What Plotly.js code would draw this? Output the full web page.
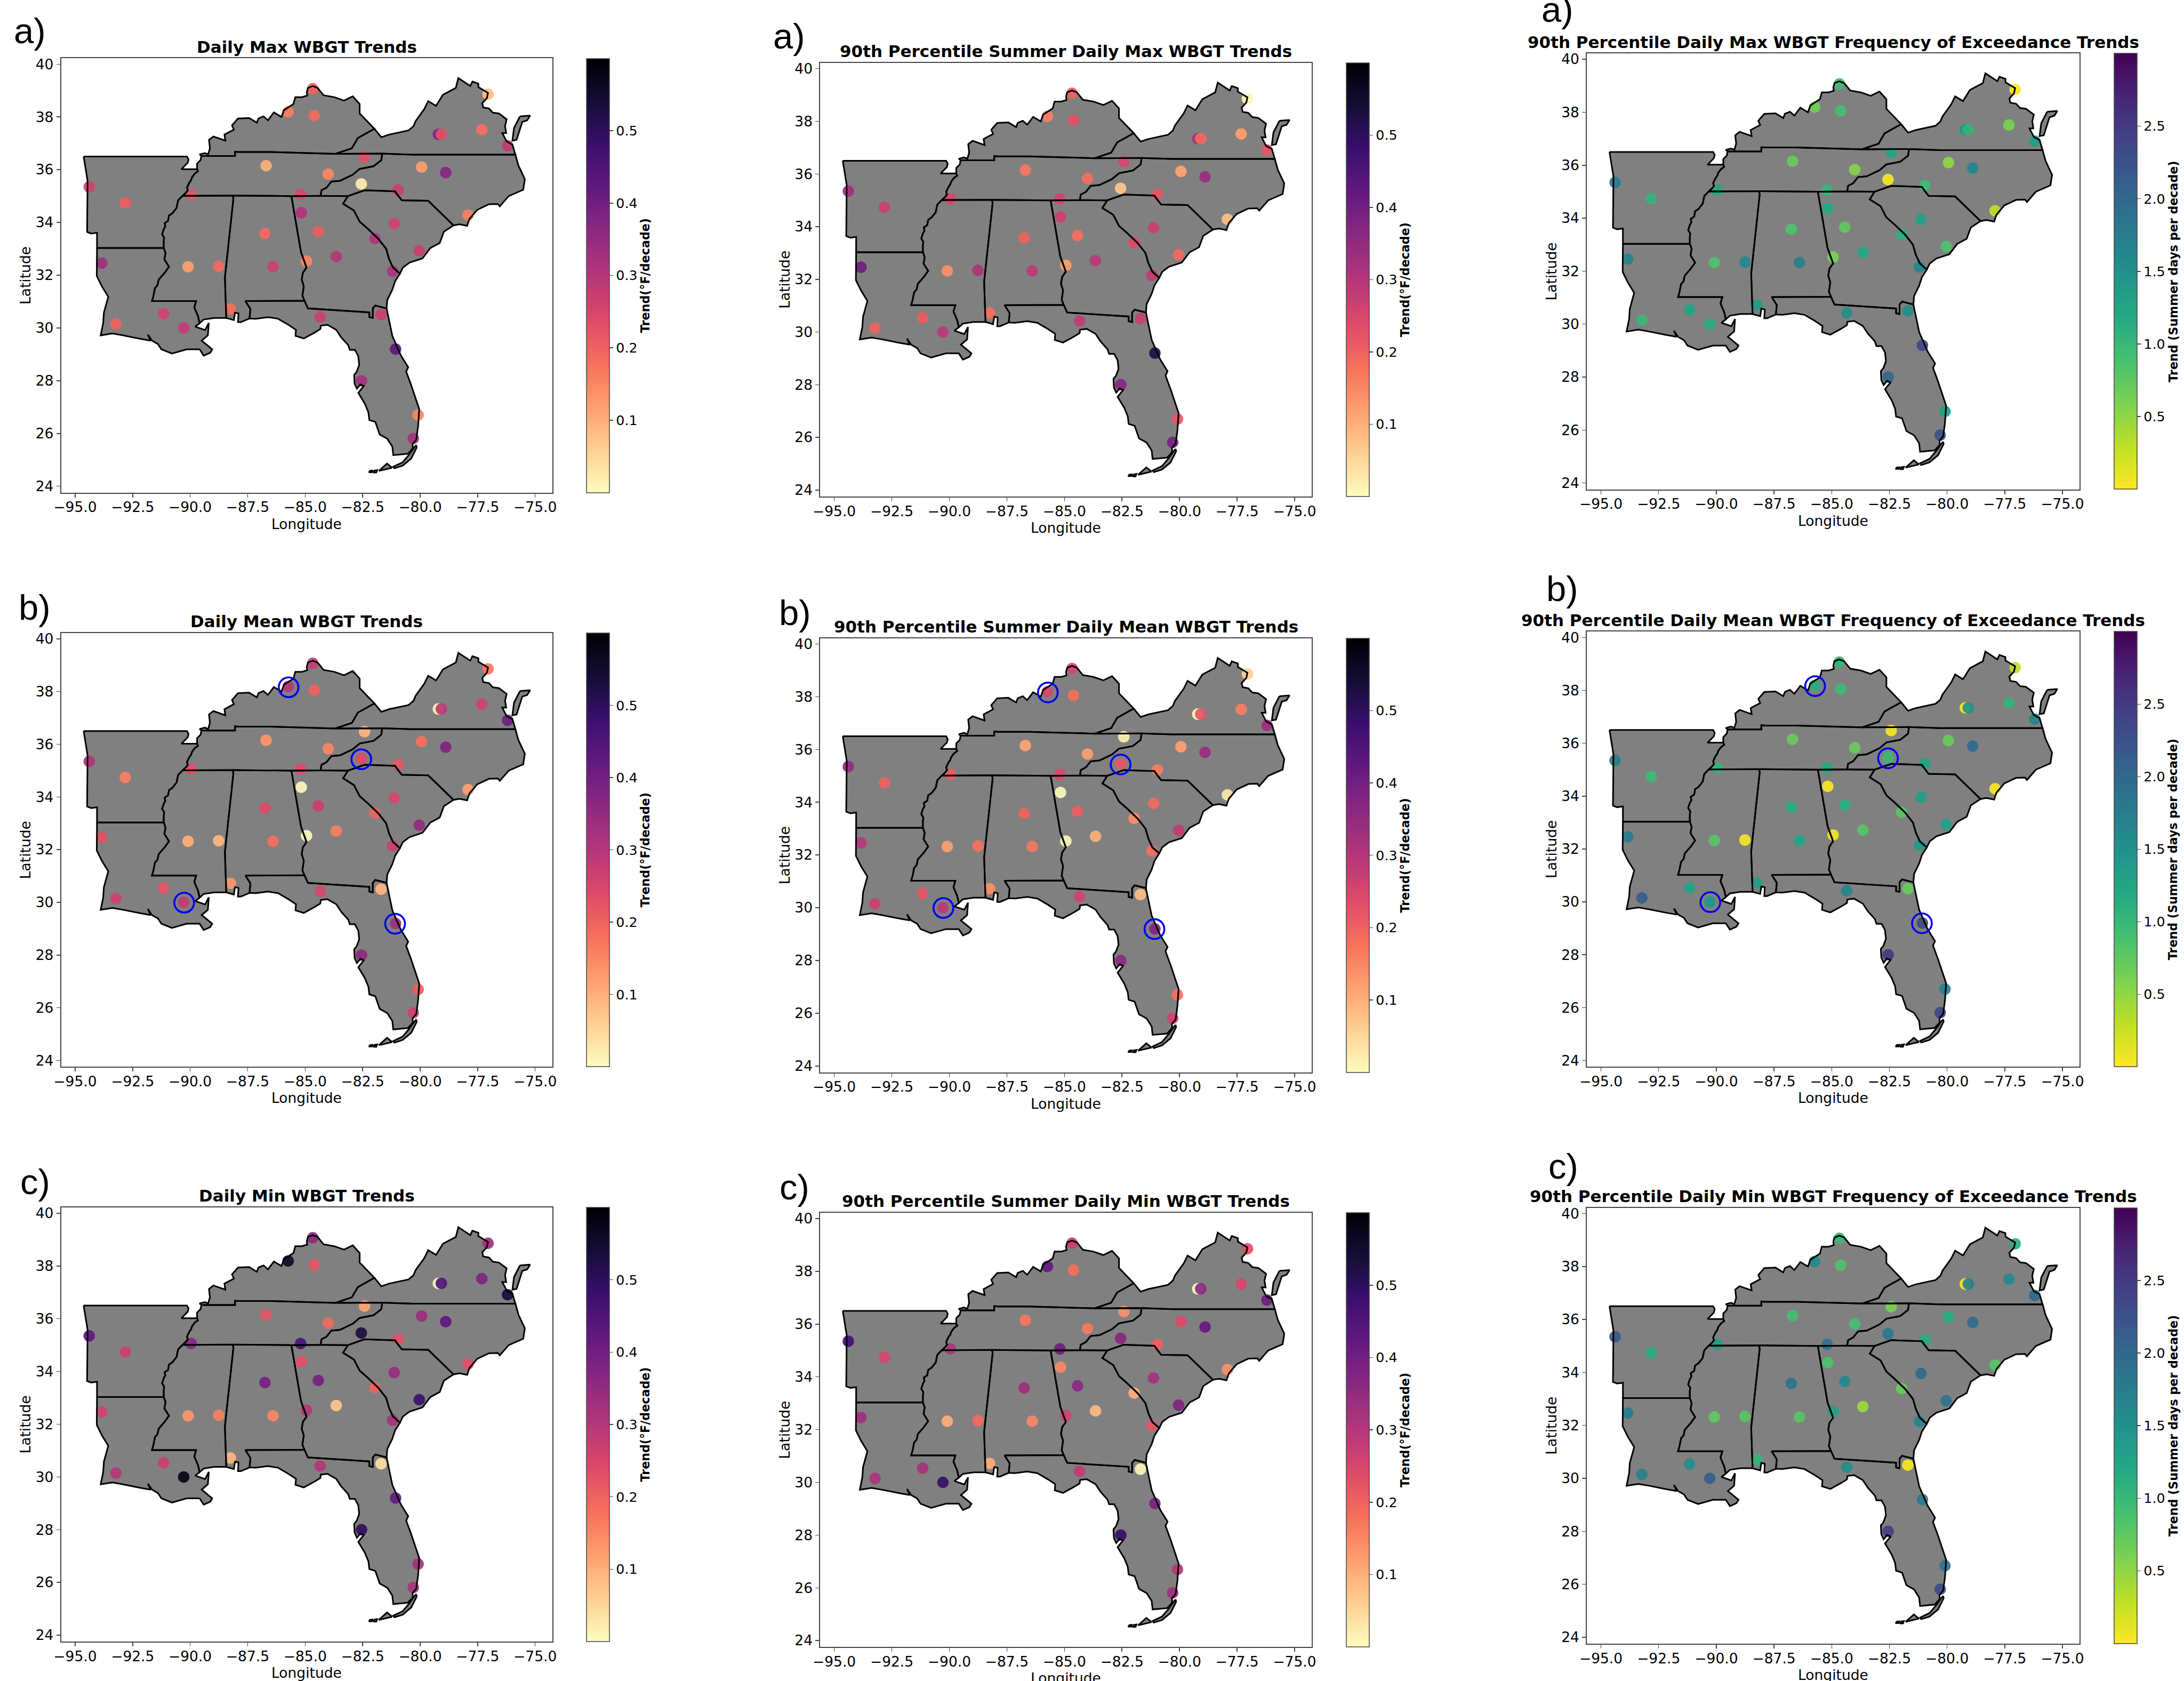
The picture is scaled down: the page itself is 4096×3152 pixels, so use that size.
<!DOCTYPE html>
<html><head><meta charset="utf-8">
<script src="https://cdn.plot.ly/plotly-3.0.1.min.js"></script>
<style>html,body{margin:0;padding:0;background:#fff}#chart{width:4096px;height:3152px}</style>
</head><body><div id="chart"></div>
<script>
// ---------- stations (lon / lat) ----------
const stationLon=[-94.39,-92.82,-93.84,-93.23,-91.16,-90.28,-90.09,-88.76,-89.96,-88.25,-86.75,-86.40,-86.70,-85.74,-84.67,-84.61,-84.00,-85.20,-85.17,-84.43,-84.94,-83.65,-82.42,-82.56,-80.96,-81.97,-81.13,-80.04,-81.20,-81.70,-84.35,-81.07,-82.55,-80.09,-80.30,-77.92,-79.94,-78.89,-79.21,-79.08,-77.32,-76.20,-77.05];
const stationLat=[35.35,34.74,32.46,30.15,30.54,30.00,32.32,32.34,35.06,30.72,33.58,32.32,36.15,38.19,39.07,38.05,35.83,35.06,34.37,33.66,32.53,32.71,36.48,35.46,35.23,33.39,33.96,32.93,32.15,30.50,30.42,29.20,28.00,26.70,25.81,34.28,36.10,35.89,37.34,37.34,37.52,36.91,38.86];

// ---------- trend values, one array per panel ----------
const dailyMax=[.26,.21,.33,.20,.26,.28,.12,.19,.22,.18,.19,.27,.10,.16,.20,.19,.15,.25,.31,.21,.15,.30,.23,.02,.27,.31,.26,.27,.31,.27,.27,.43,.32,.15,.32,.16,.12,.37,.38,.23,.18,.28,.08];
const dailyMean=[.31,.16,.23,.26,.22,.28,.10,.09,.23,.13,.24,.18,.13,.30,.28,.20,.15,.24,.005,.27,.005,.16,.09,.24,.22,.20,.25,.35,.27,.09,.25,.33,.36,.21,.26,.12,.18,.38,.01,.29,.26,.40,.17];
const dailyMin=[.43,.27,.26,.30,.27,.58,.13,.16,.37,.09,.39,.15,.22,.55,.36,.22,.19,.46,.23,.39,.30,.07,.11,.53,.23,.20,.34,.48,.32,.04,.30,.42,.50,.32,.32,.23,.34,.43,.01,.45,.38,.54,.33];
const p90Max=[.33,.27,.41,.20,.21,.29,.14,.31,.25,.18,.20,.29,.17,.16,.20,.23,.18,.26,.27,.18,.12,.29,.25,.07,.22,.24,.27,.19,.28,.27,.28,.52,.37,.22,.39,.08,.11,.34,.32,.19,.12,.22,.01];
const p90Mean=[.35,.20,.30,.27,.22,.29,.12,.18,.21,.14,.20,.17,.11,.25,.25,.18,.12,.25,.005,.21,.01,.10,.02,.22,.16,.14,.19,.28,.18,.08,.26,.38,.36,.18,.26,.03,.12,.34,.01,.22,.16,.33,.06];
const p90Min=[.47,.25,.33,.31,.32,.49,.10,.19,.31,.10,.33,.15,.17,.42,.27,.18,.17,.41,.15,.36,.26,.09,.14,.37,.20,.10,.32,.38,.22,.01,.28,.39,.49,.30,.33,.14,.24,.42,.005,.36,.25,.41,.23];
const freqMax=[1.75,1.05,1.65,1.00,1.25,1.15,.85,1.60,1.20,1.35,.85,1.70,.70,.65,.95,.90,.55,1.05,1.20,.75,.60,1.20,1.25,.03,.95,1.10,1.30,.85,1.60,1.55,1.55,2.35,2.00,1.35,2.25,.30,.50,1.65,1.40,1.05,.60,1.35,.03];
const freqMean=[1.75,.95,1.75,2.10,1.25,1.45,.80,.03,1.05,1.30,1.15,1.25,.70,1.15,1.05,.95,.70,1.20,.02,1.10,.05,.80,.03,1.00,1.25,.80,1.35,1.30,1.40,.70,1.65,2.35,2.50,1.70,2.40,.03,.70,1.95,.03,1.50,1.05,1.65,.30];
const freqMin=[2.15,1.15,1.75,1.70,1.55,2.10,.75,.80,1.35,1.05,1.85,.80,.90,1.60,1.00,.85,.90,1.85,.85,1.60,1.30,.45,.60,1.80,1.15,.70,1.95,1.85,1.65,.02,1.55,1.75,2.45,1.85,2.35,.80,1.15,1.95,.03,1.75,1.60,2.00,1.10];

// ---------- highlighted stations ----------
const ringLon=[-85.72,-82.56,-90.26,-81.09];
const ringLat=[38.16,35.43,29.99,29.19];

// ---------- tick labels ----------
const lonTicks=[-95,-92.5,-90,-87.5,-85,-82.5,-80,-77.5,-75];
const lonLabels=["−95.0","−92.5","−90.0","−87.5","−85.0","−82.5","−80.0","−77.5","−75.0"];
const latTicks=[24,26,28,30,32,34,36,38,40];
const latLabels=["24","26","28","30","32","34","36","38","40"];
const trendTicks=[.1,.2,.3,.4,.5];
const trendLabels=["0.1","0.2","0.3","0.4","0.5"];
const freqTicks=[.5,1,1.5,2,2.5];
const freqLabels=["0.5","1.0","1.5","2.0","2.5"];

// ---------- colours ----------
const magmaR=["#fcfdbf","#fecf92","#fe9f6d","#f76f5c","#de4968","#b5367a","#8c2981","#641a80","#3b0f70","#140e36","#000004"];
const viridisR=["#fde725","#bddf26","#7ad151","#44bf70","#22a884","#21918c","#2a788e","#355f8d","#414487","#482576","#440154"];
const scale=a=>a.map((c,i)=>[i/(a.length-1),c]);

// ---------- state borders (lon, lat) ----------
const arNorth=[[-94.63,36.5],[-90.14,36.5],[-90.07,36.39],[-90.11,36.26],[-90.38,36.02],[-89.7,36.02]];
const riverTN=[[-89.7,36.02],[-89.66,35.94],[-89.8,35.85],[-89.92,35.71],[-89.96,35.6],[-90.03,35.52],[-90.14,35.32],[-90.1,35.22],[-90.18,35.13],[-90.33,35.01]];
const riverARMS=[[-90.33,35.01],[-90.52,34.84],[-90.56,34.7],[-90.59,34.55],[-90.77,34.35],[-90.92,34.26],[-90.96,34.06],[-91.11,33.97],[-91.08,33.85],[-91.15,33.74],[-91.22,33.55],[-91.13,33.42],[-91.15,33.29],[-91.15,33.03]];
const arLa=[[-91.15,33.03],[-94.05,33.03]];
const arWest=[[-94.05,33.03],[-94.05,33.61],[-94.3,33.58],[-94.48,33.64],[-94.46,35.58],[-94.63,36.5]];
const riverLaMs=[[-91.15,33.03],[-91.07,32.84],[-91.12,32.6],[-90.92,32.32],[-91.11,32.09],[-91.37,31.83],[-91.42,31.62],[-91.53,31.51],[-91.6,31.2],[-91.66,31.02]];
const la31=[[-91.66,31.02],[-89.74,31.02]];
const pearl=[[-89.74,31.02],[-89.82,30.78],[-89.66,30.45],[-89.59,30.18]];
const laCoast=[[-89.59,30.18],[-89.78,30.05],[-89.35,29.92],[-89.19,30.19],[-89.23,29.72],[-89.5,29.52],[-89.04,29.19],[-89.13,29.06],[-89.41,28.95],[-89.59,29.19],[-90.15,29.19],[-90.79,29.03],[-91.25,29.19],[-91.4,29.39],[-91.66,29.52],[-91.84,29.75],[-91.72,29.52],[-92.18,29.59],[-92.92,29.72],[-93.38,29.79],[-93.89,29.72],[-93.78,30.19],[-93.75,30.58],[-93.56,31.18],[-93.84,31.58],[-94.06,31.97],[-94.05,33.03]];
const tn35=[[-84.33,35.01],[-85.6,35.0],[-88.15,35.02],[-90.33,35.01]];
const msAl=[[-88.15,35.02],[-88.12,34.9],[-88.49,31.91],[-88.43,30.38]];
const msCoast=[[-88.43,30.38],[-88.95,30.38],[-89.41,30.32],[-89.59,30.18]];
const alGa=[[-85.6,35.0],[-85.18,32.87],[-84.94,32.29],[-85.1,32.09],[-85.15,31.83],[-85.06,31.58],[-85.12,31.22],[-85.03,31.03]];
const alFl=[[-85.03,31.03],[-87.6,31.02],[-87.38,30.72],[-87.42,30.36]];
const alCoast=[[-87.42,30.36],[-87.8,30.22],[-87.92,30.22],[-87.9,30.55],[-88.05,30.58],[-88.1,30.3],[-88.43,30.38]];
const gaFl=[[-85.03,31.03],[-84.88,30.74],[-82.21,30.59],[-82.21,30.41],[-82.06,30.38],[-82.06,30.74],[-81.95,30.85],[-81.46,30.74]];
const flCoast=[[-87.42,30.36],[-87.14,30.35],[-86.62,30.41],[-86.18,30.35],[-85.73,30.12],[-85.4,29.93],[-85.42,29.7],[-85.06,29.6],[-84.58,29.83],[-84.34,29.96],[-84.32,30.09],[-84.03,30.12],[-83.65,29.93],[-83.43,29.64],[-83.13,29.35],[-83.06,29.17],[-82.84,29.17],[-82.69,28.93],[-82.65,28.6],[-82.76,28.34],[-82.87,28.22],[-82.85,27.89],[-82.75,27.7],[-82.6,27.86],[-82.45,27.8],[-82.69,27.54],[-82.4,27.12],[-82.25,26.8],[-82.21,26.51],[-81.95,26.44],[-81.76,25.96],[-81.43,25.8],[-81.21,25.5],[-81.17,25.18],[-80.54,25.23],[-80.32,25.44],[-80.33,25.6],[-80.17,25.76],[-80.09,26.28],[-80.04,26.92],[-80.39,27.83],[-80.61,28.35],[-80.52,28.51],[-80.84,28.96],[-81.21,29.7],[-81.46,30.74]];
const gaCoast=[[-81.46,30.74],[-81.43,31.06],[-81.21,31.45],[-81.09,31.77],[-80.88,32.06]];
const savannah=[[-80.88,32.06],[-81.18,32.29],[-81.35,32.61],[-81.48,33.0],[-81.82,33.38],[-82.29,33.77],[-82.63,34.03],[-82.88,34.45],[-83.35,34.71],[-83.14,35.0]];
const scNorth=[[-83.14,35.0],[-82.42,35.22],[-81.09,35.18],[-81.02,35.08],[-80.8,34.84],[-79.65,34.82],[-78.55,33.89]];
const scCoast=[[-78.55,33.89],[-78.97,33.65],[-79.15,33.22],[-79.56,33.03],[-79.9,32.64],[-80.46,32.48],[-80.75,32.29],[-80.88,32.06]];
const ncCoast=[[-75.86,36.57],[-75.73,36.16],[-75.45,35.64],[-75.52,35.24],[-76.15,35.0],[-76.54,34.61],[-76.62,34.7],[-77.01,34.69],[-77.52,34.48],[-77.86,34.13],[-77.96,33.87],[-78.29,33.93],[-78.55,33.89]];
const vaSouth=[[-81.65,36.61],[-80.33,36.57],[-75.86,36.57]];
const ncTn=[[-81.65,36.61],[-81.69,36.36],[-82.03,36.13],[-82.63,36.03],[-82.93,35.81],[-83.48,35.58],[-83.86,35.55],[-84.07,35.32],[-84.29,35.22],[-84.33,35.01]];
const tnNorth=[[-89.51,36.52],[-88.05,36.52],[-88.05,36.68],[-87.88,36.67],[-86.55,36.67],[-84.91,36.63],[-83.69,36.6],[-81.65,36.61]];
const tnWest=[[-89.51,36.52],[-89.55,36.36],[-89.7,36.23],[-89.7,36.02]];
const ohio=[[-89.51,36.52],[-89.59,36.58],[-89.36,36.63],[-89.22,36.58],[-89.14,36.81],[-89.18,37.13],[-88.99,37.26],[-88.47,37.1],[-88.51,37.33],[-88.1,37.52],[-88.18,37.68],[-87.92,37.94],[-87.44,37.96],[-87.1,37.78],[-87.03,37.94],[-86.81,38.02],[-86.62,37.87],[-86.36,38.17],[-86.03,38.0],[-85.92,38.26],[-85.51,38.49],[-85.43,38.75],[-85.14,38.75],[-84.91,38.81],[-84.93,38.94],[-84.88,39.1],[-84.67,39.17],[-84.46,39.1],[-84.2,38.82],[-83.74,38.75],[-83.31,38.62],[-82.93,38.78],[-82.63,38.49],[-82.63,38.13],[-81.99,37.55]];
const kyVa=[[-81.99,37.55],[-82.71,37.2],[-82.97,36.81],[-83.69,36.6]];
const vaNorth=[[-81.99,37.55],[-81.69,37.23],[-81.35,37.33],[-80.5,37.49],[-80.29,37.65],[-80.2,37.84],[-79.82,38.3],[-79.65,38.6],[-79.31,38.42],[-79.01,38.84],[-78.45,39.1],[-78.34,39.47],[-77.82,39.17],[-77.73,39.34],[-77.47,39.26],[-77.47,39.13],[-77.05,38.91],[-77.1,38.71],[-77.3,38.52],[-77.26,38.36],[-77.01,38.32],[-76.84,38.16],[-76.58,38.13],[-76.24,37.91],[-76.31,37.65],[-76.26,37.39],[-76.43,37.39],[-76.24,37.07],[-75.99,36.95],[-75.86,36.57]];
const easternShore=[[-75.66,38.02],[-75.22,38.05],[-75.35,37.87],[-75.56,37.81],[-75.81,37.13],[-75.99,37.1],[-75.92,37.58],[-75.77,37.84],[-75.66,38.02]];
const upperKeys=[[-80.17,25.56],[-80.15,25.47],[-80.39,25.05],[-80.76,24.78],[-81.12,24.68],[-81.17,24.74],[-80.76,24.91],[-80.47,25.21],[-80.26,25.47],[-80.17,25.56]];
const middleKey=[[-81.8,24.58],[-81.44,24.86],[-81.22,24.7],[-81.62,24.61],[-81.8,24.58]];
const keyA=[[-82.21,24.58],[-82.06,24.6],[-82.1,24.53],[-82.21,24.53],[-82.21,24.58]];
const keyB=[[-82.02,24.59],[-81.87,24.61],[-81.91,24.52],[-82.02,24.52],[-82.02,24.59]];

const rev=a=>a.slice().reverse();
const states=[
  [...arNorth,...riverTN,...riverARMS,...arLa,...arWest],
  [...rev(arLa),...riverLaMs,...la31,...pearl,...laCoast],
  [[-90.33,35.01],[-88.15,35.02],...msAl,...msCoast,...rev(pearl),...rev(la31),...rev(riverLaMs),...rev(riverARMS)],
  [[-88.15,35.02],...alGa,...alFl,...alCoast,...rev(msAl)],
  [[-85.6,35.0],[-84.33,35.01],[-83.14,35.0],...rev(savannah),...rev(gaCoast),...rev(gaFl),...rev(alGa)],
  [...flCoast,...rev(gaFl),...alFl],
  [...scNorth,...scCoast,...savannah],
  [...vaSouth,...ncCoast,...rev(scNorth),[-84.33,35.01],...rev(ncTn)],
  [...vaNorth,...rev(vaSouth),[-83.69,36.6],...rev(kyVa)],
  [...tnNorth,...ncTn,...tn35,...rev(riverTN),...rev(tnWest)],
  [...ohio,...kyVa,[-84.91,36.63],[-86.55,36.67],[-87.88,36.67],[-88.05,36.68],[-88.05,36.52],[-89.51,36.52]],
  easternShore,upperKeys,middleKey,keyA,keyB
];
const mapLon=[],mapLat=[];
states.forEach(s=>{s.forEach(p=>{mapLon.push(p[0]);mapLat.push(p[1]);});mapLon.push(null);mapLat.push(null);});

// ---------- page geometry, in the reference's pixels ----------
const RW=4267,RH=3284;
const fx=x=>x/RW, fy=y=>1-y/RH;
const panels=[
 {v:dailyMax ,t:"Daily Max WBGT Trends",l:"a)",lx:58,ly:60,box:[119.5,1079,114,962.3],cb:1146,kind:0,ring:0},
 {v:p90Max   ,t:"90th Percentile Summer Daily Max WBGT Trends",l:"a)",lx:1542,ly:70,box:[1602.6,2562.8,122.8,969.7],cb:2630.8,kind:0,ring:0},
 {v:freqMax  ,t:"90th Percentile Daily Max WBGT Frequency of Exceedance Trends",l:"a)",lx:3043,ly:18,box:[3100.5,4063,104.4,956],cb:4131,kind:1,ring:0},
 {v:dailyMean,t:"Daily Mean WBGT Trends",l:"b)",lx:67.5,ly:1186,box:[119.5,1079,1236.7,2084.2],cb:1146,kind:0,ring:1},
 {v:p90Mean  ,t:"90th Percentile Summer Daily Mean WBGT Trends",l:"b)",lx:1553,ly:1197,box:[1602.6,2562.8,1246.7,2094.9],cb:2630.8,kind:0,ring:1},
 {v:freqMean ,t:"90th Percentile Daily Mean WBGT Frequency of Exceedance Trends",l:"b)",lx:3052,ly:1150,box:[3100.5,4063,1234,2084.2],cb:4131,kind:1,ring:1},
 {v:dailyMin ,t:"Daily Min WBGT Trends",l:"c)",lx:68.5,ly:2308,box:[119.5,1079,2358.8,3206.9],cb:1146,kind:0,ring:0},
 {v:p90Min   ,t:"90th Percentile Summer Daily Min WBGT Trends",l:"c)",lx:1552,ly:2319,box:[1602.6,2562.8,2369.4,3217.4],cb:2630.8,kind:0,ring:0},
 {v:freqMin  ,t:"90th Percentile Daily Min WBGT Frequency of Exceedance Trends",l:"c)",lx:3054,ly:2278,box:[3100.5,4063,2359.5,3210.8],cb:4131,kind:1,ring:0}
];
const kinds=[
 {colors:magmaR,cmax:.6,ticks:trendTicks,labels:trendLabels,title:"Trend(°F/decade)"},
 {colors:viridisR,cmax:3,ticks:freqTicks,labels:freqLabels,title:"Trend (Summer days per decade)"}
];
const FONT="DejaVu Sans",TICK=26.5,CBTICK=25.3,AXT=26.5,TITLE=31,CBT=22.2,FRAME="#444444";
const traces=[],annotations=[];
const layout={width:4096,height:3152,margin:{l:0,r:0,t:0,b:0},paper_bgcolor:"#fff",plot_bgcolor:"#fff",showlegend:false,font:{family:FONT,color:"#000"},annotations};

panels.forEach((p,i)=>{
  const n=i===0?"":String(i+1), xa="x"+n, ya="y"+n, [l,r,t,b]=p.box, k=kinds[p.kind];
  layout["xaxis"+n]={domain:[fx(l),fx(r)],anchor:ya,range:[-95.608,-74.257],tickmode:"array",tickvals:lonTicks,ticktext:lonLabels,ticklabelstandoff:-4,
    tickfont:{size:TICK,family:FONT},ticks:"outside",ticklen:7,tickwidth:1.5,tickcolor:FRAME,showgrid:false,zeroline:false,showline:true,linecolor:FRAME,linewidth:2,mirror:true};
  layout["yaxis"+n]={domain:[fy(b),fy(t)],anchor:xa,range:[23.76,40.22],tickmode:"array",tickvals:latTicks,ticktext:latLabels,
    tickfont:{size:TICK,family:FONT},ticks:"outside",ticklen:7,tickwidth:1.5,tickcolor:FRAME,showgrid:false,zeroline:false,showline:true,linecolor:FRAME,linewidth:2,mirror:true,
    title:{text:"Latitude",font:{size:AXT,family:FONT},standoff:1}};
  traces.push({type:"scatter",mode:"lines",x:mapLon,y:mapLat,xaxis:xa,yaxis:ya,fill:"toself",fillcolor:"#808080",line:{width:0,color:"#808080"},hoverinfo:"skip"});
  traces.push({type:"scatter",mode:"markers",x:stationLon,y:stationLat,xaxis:xa,yaxis:ya,
    marker:{size:21.5,opacity:.92,line:{width:0},color:p.v,cmin:0,cmax:k.cmax,colorscale:scale(k.colors),showscale:true,
      colorbar:{x:fx(p.cb),xanchor:"left",y:(fy(b)+fy(t))/2,yanchor:"middle",len:fy(t)-fy(b),lenmode:"fraction",thickness:42.5,thicknessmode:"pixels",xpad:0,ypad:0,
        outlinecolor:FRAME,outlinewidth:1.5,tickmode:"array",tickvals:k.ticks,ticktext:k.labels,ticks:"outside",ticklen:7,tickwidth:1.5,tickcolor:FRAME,tickfont:{size:CBTICK,family:FONT}}}});
  traces.push({type:"scatter",mode:"lines",x:mapLon,y:mapLat,xaxis:xa,yaxis:ya,line:{width:3,color:"#000"},hoverinfo:"skip",connectgaps:false});
  if(p.ring) traces.push({type:"scatter",mode:"markers",x:ringLon,y:ringLat,xaxis:xa,yaxis:ya,marker:{symbol:"circle-open",size:37,color:"#0000ee",line:{width:3.6,color:"#0000ee"}}});
  annotations.push({xref:"paper",yref:"paper",x:fx((l+r)/2),y:fy(t-22.6),xanchor:"center",yanchor:"middle",showarrow:false,text:p.t,font:{size:TITLE,family:FONT,weight:700,color:"#000"}});
  annotations.push({xref:"paper",yref:"paper",x:fx((l+r)/2),y:fy(b+61),xanchor:"center",yanchor:"middle",showarrow:false,text:"Longitude",font:{size:AXT,family:FONT,color:"#000"}});
  annotations.push({xref:"paper",yref:"paper",x:fx(p.lx),y:fy(p.ly),xanchor:"center",yanchor:"middle",showarrow:false,text:p.l,font:{size:67,family:"Liberation Sans",color:"#000"}});
  annotations.push({xref:"paper",yref:"paper",x:fx(p.cb+(p.kind?115:114)),y:fy((t+b)/2),xanchor:"center",yanchor:"middle",textangle:-90,showarrow:false,text:k.title,font:{size:CBT,family:FONT,weight:700,color:"#000"}});
});
Plotly.newPlot("chart",traces,layout,{displayModeBar:false,staticPlot:true});
</script></body></html>
